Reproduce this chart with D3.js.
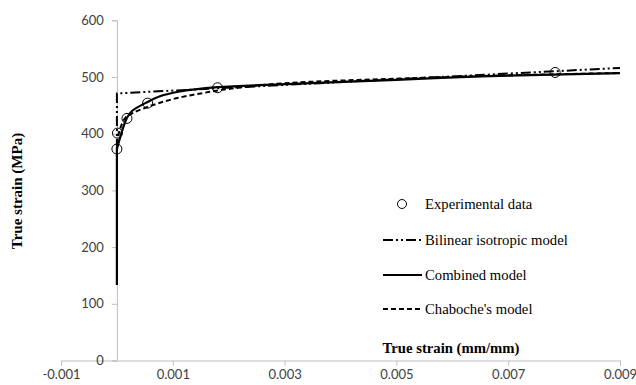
<!DOCTYPE html>
<html>
<head>
<meta charset="utf-8">
<script src="https://cdn.jsdelivr.net/npm/d3@7"></script>
<style>
  html, body { margin: 0; padding: 0; background: #fff; }
  svg { display: block; }
</style>
</head>
<body>
<svg id="chart" width="636" height="385"></svg>
<script>
// Strain (mm/mm) and true stress (MPa) series
const expStrain      = [0.00000, 0.00001, 0.00018, 0.00055, 0.00180, 0.00784];
const expStress      = [373, 401, 427, 454, 481, 508];

const bilinearStrain = [0.00000, 0.00000, 0.00900];
const bilinearStress = [373, 471, 516];

const combinedStrain = [0.00000, 0.00000, 0.00018, 0.00027, 0.00055, 0.00077, 0.00110, 0.00180, 0.00292, 0.00500, 0.00650, 0.00900];
const combinedStress = [133, 373, 428, 440, 456, 466, 474, 482, 487, 495, 501, 507];

const chabocheStrain = [0.00000, 0.00005, 0.00015, 0.00030, 0.00060, 0.00100, 0.00150, 0.00200, 0.00300, 0.00500, 0.00700, 0.00900];
const chabocheStress = [382, 406, 428, 437, 449, 461, 471, 479, 489, 497, 503, 507];

const xTicks = [-0.001, 0.001, 0.003, 0.005, 0.007, 0.009];
const yTicks = [0, 100, 200, 300, 400, 500, 600];

const legendLabels = ["Experimental data", "Bilinear isotropic model", "Combined model", "Chaboche's model"];

const svg = d3.select("#chart");

const x = d3.scaleLinear().domain([-0.001, 0.009]).range([61, 620]);
const y = d3.scaleLinear().domain([0, 600]).range([360.5, 20.3]);

const axisColor = "#bfbfbf";
const tickFont = "Lato, 'Liberation Sans', sans-serif";
const serif = "'Liberation Serif', 'Times New Roman', serif";

// X axis along stress = 0
const xAxis = svg.append("g")
  .attr("transform", `translate(0,${y(0)})`)
  .call(d3.axisBottom(x).tickValues(xTicks).tickSize(5).tickPadding(4)
    .tickFormat(d => d3.format(".3f")(d).replace("−", "-")));
xAxis.select(".domain").attr("stroke", axisColor);
xAxis.selectAll(".tick line").attr("stroke", axisColor);
xAxis.selectAll(".tick text")
  .attr("fill", "#404040").style("font-family", tickFont).style("font-size", "13px");

// Y axis along strain = 0
const yAxis = svg.append("g")
  .attr("transform", `translate(${x(0)},0)`)
  .call(d3.axisLeft(y).tickValues(yTicks).tickSize(5).tickPadding(8).tickFormat(d3.format("d")));
yAxis.select(".domain").attr("stroke", axisColor);
yAxis.selectAll(".tick line").attr("stroke", axisColor);
yAxis.selectAll(".tick text")
  .attr("fill", "#404040").style("font-family", tickFont).style("font-size", "13px");

// Axis titles
svg.append("text")
  .attr("x", 451).attr("y", 353)
  .attr("text-anchor", "middle")
  .style("font-family", serif).style("font-weight", "bold").style("font-size", "14.7px")
  .attr("fill", "#000")
  .text("True strain (mm/mm)");

svg.append("text")
  .attr("transform", "translate(22,191) rotate(-90)")
  .attr("text-anchor", "middle")
  .style("font-family", serif).style("font-weight", "bold").style("font-size", "15px")
  .attr("fill", "#000")
  .text("True strain (MPa)");

const zip = (xs, ys) => xs.map((v, i) => [v, ys[i]]);

const smooth = d3.line().x(d => x(d[0])).y(d => y(d[1])).curve(d3.curveCatmullRom.alpha(0.5));
const straight = d3.line().x(d => x(d[0])).y(d => y(d[1]));

const dashDotDot = "10,3,2,3,2,3";

// Model curves
svg.append("path")
  .datum(zip(bilinearStrain, bilinearStress))
  .attr("d", straight)
  .attr("fill", "none").attr("stroke", "#000").attr("stroke-width", 2)
  .attr("stroke-dasharray", dashDotDot);

svg.append("path")
  .datum(zip(chabocheStrain, chabocheStress))
  .attr("d", smooth)
  .attr("fill", "none").attr("stroke", "#000").attr("stroke-width", 2)
  .attr("stroke-dasharray", "5,3");

// Combined model: straight elastic rise, then a smooth hardening curve
const combined = zip(combinedStrain, combinedStress);
const elasticEnd = 2;
const combinedPath = straight(combined.slice(0, elasticEnd)) +
  smooth(combined.slice(elasticEnd - 1)).replace(/^M/, "L");
svg.append("path")
  .attr("d", combinedPath)
  .attr("fill", "none").attr("stroke", "#000").attr("stroke-width", 2.2);

// Experimental points
svg.append("g").selectAll("circle")
  .data(zip(expStrain, expStress))
  .join("circle")
  .attr("cx", d => x(d[0])).attr("cy", d => y(d[1]))
  .attr("r", 5)
  .attr("fill", "none").attr("stroke", "#000").attr("stroke-width", 1);

// Legend
const legend = svg.append("g");
const rowY = [204, 240, 275, 309];
const textX = 425;

legend.append("circle")
  .attr("cx", 402).attr("cy", rowY[0]).attr("r", 4.5)
  .attr("fill", "none").attr("stroke", "#000").attr("stroke-width", 1);
legend.append("line")
  .attr("x1", 383).attr("x2", 422).attr("y1", rowY[1]).attr("y2", rowY[1])
  .attr("stroke", "#000").attr("stroke-width", 2).attr("stroke-dasharray", dashDotDot);
legend.append("line")
  .attr("x1", 383).attr("x2", 422).attr("y1", rowY[2]).attr("y2", rowY[2])
  .attr("stroke", "#000").attr("stroke-width", 2.2);
legend.append("line")
  .attr("x1", 383).attr("x2", 422).attr("y1", rowY[3]).attr("y2", rowY[3])
  .attr("stroke", "#000").attr("stroke-width", 2).attr("stroke-dasharray", "5,3");

legend.selectAll("text.lbl")
  .data(legendLabels)
  .join("text")
  .attr("class", "lbl")
  .attr("x", textX).attr("y", (d, i) => rowY[i] + 5)
  .style("font-family", serif).style("font-size", "14.7px")
  .attr("fill", "#000")
  .text(d => d);
</script>
</body>
</html>
